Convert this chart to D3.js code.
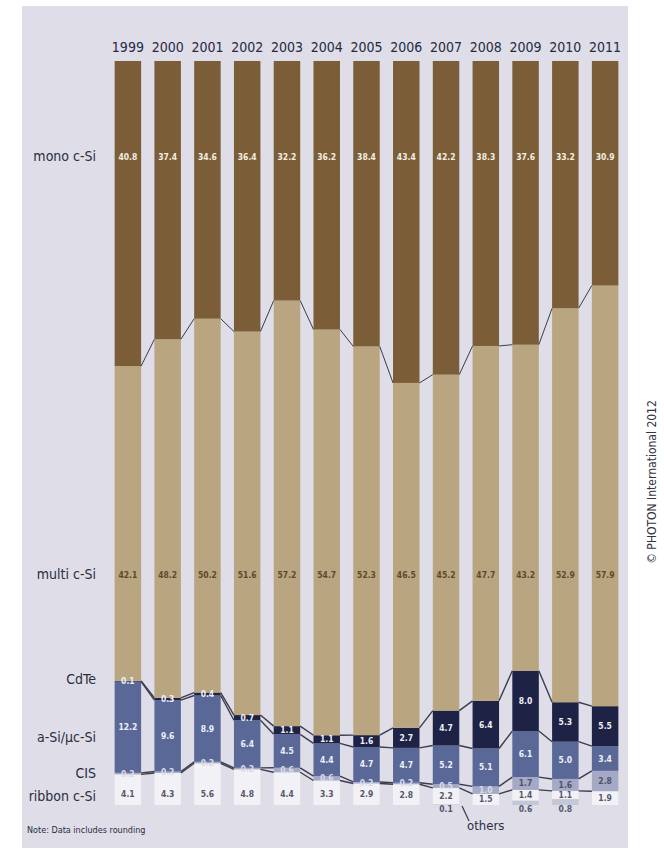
<!DOCTYPE html>
<html>
<head>
<meta charset="utf-8">
<script src="https://cdn.jsdelivr.net/npm/d3@7"></script>
<style>
  html, body { margin: 0; padding: 0; background: #ffffff; }
  svg { display: block; }
  text { font-family: "Liberation Sans Narrow", "DejaVu Sans Condensed", "Roboto", sans-serif; }
</style>
</head>
<body>
<svg id="chart" width="664" height="853"></svg>
<script>
// ---- data (percent share of production by technology) ----
const years  = ["1999","2000","2001","2002","2003","2004","2005","2006","2007","2008","2009","2010","2011"];
const mono   = [40.8, 37.4, 34.6, 36.4, 32.2, 36.2, 38.4, 43.4, 42.2, 38.3, 37.6, 33.2, 30.9];
const multi  = [42.1, 48.2, 50.2, 51.6, 57.2, 54.7, 52.3, 46.5, 45.2, 47.7, 43.2, 52.9, 57.9];
const cdte   = [0.1, 0.3, 0.4, 0.7, 1.1, 1.1, 1.6, 2.7, 4.7, 6.4, 8.0, 5.3, 5.5];
const asi    = [12.2, 9.6, 8.9, 6.4, 4.5, 4.4, 4.7, 4.7, 5.2, 5.1, 6.1, 5.0, 3.4];
const cis    = [0.2, 0.2, 0.2, 0.2, 0.6, 0.6, 0.2, 0.2, 0.5, 1.0, 1.7, 1.6, 2.8];
const ribbon = [4.1, 4.3, 5.6, 4.8, 4.4, 3.3, 2.9, 2.8, 2.2, 1.5, 1.4, 1.1, 1.9];
const others = [0, 0, 0, 0, 0, 0, 0, 0, 0.1, 0, 0.6, 0.8, 0];
const seriesNames = ["others", "ribbon c-Si", "CIS", "a-Si/µc-Si", "CdTe", "multi c-Si", "mono c-Si"];
const seriesVals  = [others, ribbon, cis, asi, cdte, multi, mono];

// ---- styles ----
const colors = {
  "others": "#c4c7d6",
  "ribbon c-Si": "#f2f1f6",
  "CIS": "#a4a9c6",
  "a-Si/µc-Si": "#5a6897",
  "CdTe": "#1e2244",
  "multi c-Si": "#b9a57f",
  "mono c-Si": "#7b5e37"
};

const table = years.map((y, i) => {
  const row = { year: y };
  seriesNames.forEach((k, j) => row[k] = seriesVals[j][i]);
  return row;
});

const svg = d3.select("#chart");

// panel background
svg.append("rect").attr("x", 22).attr("y", 6).attr("width", 606).attr("height", 842)
  .attr("fill", "#dedde8");

const x = d3.scaleBand().domain(years).range([108, 625]).paddingInner(0.334).paddingOuter(0.167);
const y = d3.scaleLinear().domain([0, 1]).range([805, 61]);

const stack = d3.stack().keys(seriesNames).offset(d3.stackOffsetExpand);
const layers = stack(table);

// bars
const g = svg.append("g");
layers.forEach(layer => {
  g.append("g").selectAll("rect").data(layer).join("rect")
    .attr("x", d => x(d.data.year))
    .attr("width", x.bandwidth())
    .attr("y", d => y(d[1]))
    .attr("height", d => Math.max(0, y(d[0]) - y(d[1])))
    .attr("fill", colors[layer.key]);
});

// connector lines between bars (boundaries)
const lineColor = "#3b3c4c";
layers.slice(0, layers.length - 1).forEach(layer => {
  if (layer.key === "others") return;
  for (let i = 0; i < layer.length - 1; i++) {
    const a = layer[i], b = layer[i + 1];
    g.append("line")
      .attr("x1", x(a.data.year) + x.bandwidth())
      .attr("y1", y(a[1]))
      .attr("x2", x(b.data.year))
      .attr("y2", y(b[1]))
      .attr("stroke", lineColor)
      .attr("stroke-width", layer.key === "multi c-Si" ? 1 : 1.4);
  }
});

// year labels
svg.append("g").selectAll("text").data(years).join("text")
  .attr("x", d => x(d) + x.bandwidth() / 2)
  .attr("y", 52)
  .attr("text-anchor", "middle")
  .attr("font-size", 14)
  .attr("fill", "#262a40")
  .text(d => d);

// category labels on left
const leftLabels = [
  { name: "mono c-Si", y: 161 },
  { name: "multi c-Si", y: 579 },
  { name: "CdTe", y: 684 },
  { name: "a-Si/µc-Si", y: 742 },
  { name: "CIS", y: 778 },
  { name: "ribbon c-Si", y: 801 }
];
svg.append("g").selectAll("text").data(leftLabels).join("text")
  .attr("x", 96).attr("y", d => d.y)
  .attr("text-anchor", "end")
  .attr("font-size", 14)
  .attr("fill", "#2b2d3e")
  .text(d => d.name);

// value labels
const fmt = d3.format(".1f");
const valG = svg.append("g").attr("font-size", 8.5).attr("font-weight", "bold").attr("text-anchor", "middle");
function addLabels(key, yFn, color, filter) {
  const layer = layers.find(l => l.key === key);
  valG.append("g").selectAll("text").data(layer.filter(d => filter ? filter(d) : true)).join("text")
    .attr("x", d => x(d.data.year) + x.bandwidth() / 2)
    .attr("y", yFn)
    .attr("fill", typeof color === "function" ? color : () => color)
    .text(d => fmt(d.data[key]));
}
addLabels("mono c-Si", () => 160, "#f4ede0");
addLabels("multi c-Si", () => 578, "#5c4a2e");
addLabels("CdTe", d => (y(d[0]) + y(d[1])) / 2 + 3, "#eef0f8");
addLabels("a-Si/µc-Si", d => (y(d[0]) + y(d[1])) / 2 + 3, "#eef0f8");
addLabels("CIS", d => (y(d[0]) + y(d[1])) / 2 + 3, d => d.data["CIS"] >= 1.5 ? "#4f5266" : "#d9dbe8");
addLabels("ribbon c-Si", d => Math.max((y(d[0]) + y(d[1])) / 2 + 3, 797), "#55586b");
addLabels("others", () => 812, "#55586b", d => d.data["others"] > 0);

// "others" annotation
const i2007 = years.indexOf("2007");
const ax = x(years[i2007]) + x.bandwidth() / 2;
svg.append("line")
  .attr("x1", ax + 16).attr("y1", 806)
  .attr("x2", ax + 23).attr("y2", 821)
  .attr("stroke", "#3a3b48").attr("stroke-width", 1.2);
svg.append("text").attr("x", ax + 21).attr("y", 830)
  .attr("font-size", 13).attr("fill", "#2b2d3e").text("others");

// note
svg.append("text").attr("x", 27).attr("y", 833)
  .attr("font-size", 9).attr("fill", "#2b2d3e").text("Note: Data includes rounding");

// copyright
svg.append("text")
  .attr("transform", "translate(656,482) rotate(-90)")
  .attr("text-anchor", "middle")
  .attr("font-size", 12)
  .attr("fill", "#33343f")
  .text("© PHOTON International 2012");
</script>
</body>
</html>
